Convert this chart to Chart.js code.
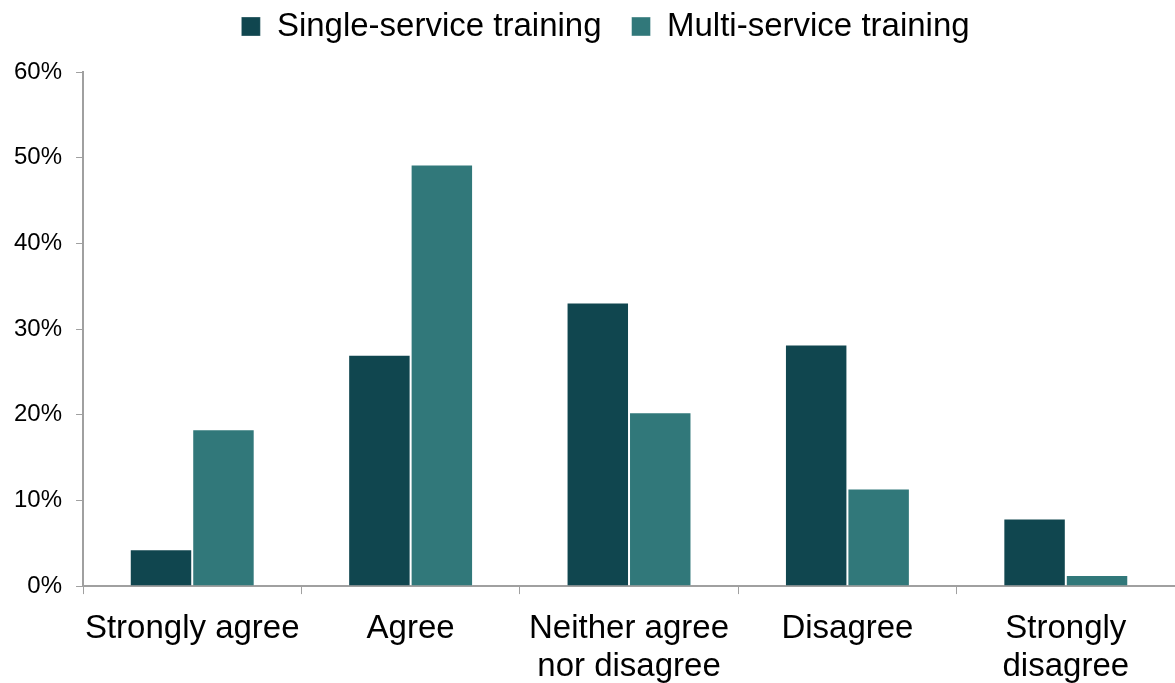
<!DOCTYPE html>
<html>
<head>
<meta charset="utf-8">
<script src="https://cdn.jsdelivr.net/npm/chart.js@4/dist/chart.umd.min.js"></script>
<style>
    html, body { margin: 0; padding: 0; background: #fff; }
    #wrap { width: 1175px; height: 683px; }
</style>
</head>
<body>
<div id="wrap"><canvas id="grafico"></canvas></div>
<script>
const categorias = ["Strongly agree", "Agree", ["Neither agree", "nor disagree"], "Disagree", ["Strongly", "disagree"]];
const serieSingle = [4.3, 27.0, 33.1, 28.2, 7.9];
const serieMulti = [18.3, 49.2, 20.3, 11.4, 1.3];
const ticksY = [0, 10, 20, 30, 40, 50, 60];

const gris = "#a0a0a0";
const fuente = "'Liberation Sans', Arial, sans-serif";

// mueve la leyenda sin tocar el área del gráfico
const moverLeyenda = {
    id: "moverLeyenda",
    afterInit(chart) {
        const leyenda = chart.legend;
        const dibujar = leyenda.draw.bind(leyenda);
        leyenda.draw = function () {
            const ctx = chart.ctx;
            ctx.save();
            ctx.translate(18, -19);
            dibujar();
            ctx.restore();
        };
    }
};

new Chart(document.getElementById("grafico"), {
    type: "bar",
    data: {
        labels: categorias,
        datasets: [
            {
                label: "Single-service training",
                data: serieSingle,
                backgroundColor: "#10464f",
                borderColor: "rgba(255,255,255,0.3)",
                borderWidth: 1
            },
            {
                label: "Multi-service training",
                data: serieMulti,
                backgroundColor: "#31787a",
                borderColor: "rgba(255,255,255,0.4)",
                borderWidth: 1
            }
        ]
    },
    options: {
        responsive: true,
        maintainAspectRatio: false,
        animation: false,
        layout: { padding: { top: -1, right: 0, left: 0, bottom: -19 } },
        datasets: { bar: { categoryPercentage: 0.572, barPercentage: 1 } },
        plugins: {
            legend: {
                position: "top",
                labels: {
                    boxWidth: 19,
                    boxHeight: 19,
                    padding: 30,
                    color: "#000",
                    font: { family: fuente, size: 33 }
                }
            },
            tooltip: { enabled: false }
        },
        scales: {
            x: {
                grid: { drawOnChartArea: false, drawTicks: true, tickLength: 8, color: gris },
                border: { color: gris, width: 2 },
                ticks: { color: "#000", padding: 16, maxRotation: 0, font: { family: fuente, size: 33, lineHeight: 1.15 } }
            },
            y: {
                min: 0,
                max: 60,
                afterBuildTicks: axis => { axis.ticks = ticksY.map(v => ({ value: v })); },
                grid: { drawOnChartArea: false, drawTicks: true, tickLength: 7, color: gris },
                border: { color: gris, width: 2 },
                ticks: {
                    color: "#000",
                    padding: 14,
                    font: { family: fuente, size: 24 },
                    callback: v => v + "%"
                }
            }
        }
    },
    plugins: [moverLeyenda]
});
</script>
</body>
</html>
